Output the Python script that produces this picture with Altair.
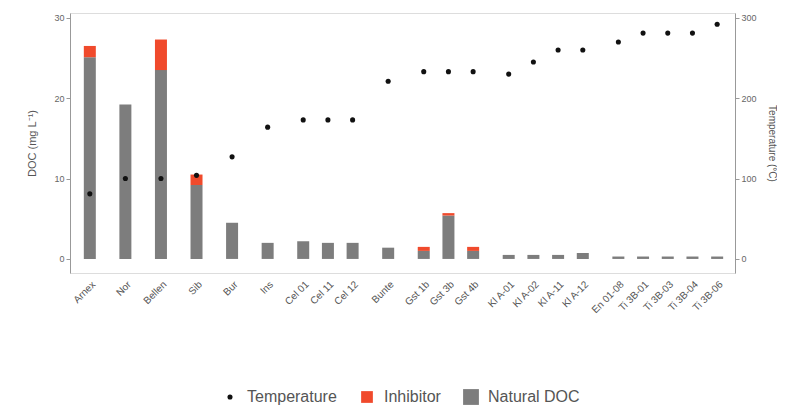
import json
import altair as alt
import pandas as pd

labels = ["Arnex", "Nor", "Bellen", "Sib", "Bur", "Ins",
          "Cel 01", "Cel 11", "Cel 12", "Bunte",
          "Gst 1b", "Gst 3b", "Gst 4b",
          "Kl A-01", "Kl A-02", "Kl A-11", "Kl A-12",
          "En 01-08", "Ti 3B-01", "Ti 3B-03", "Ti 3B-04", "Ti 3B-06"]
groups = [1, 2, 3, 4, 5, 6, 7, 7, 7, 8, 9, 9, 9, 10, 10, 10, 10, 11, 11, 11, 11, 11]
natural = [25.1, 19.2, 23.5, 9.2, 4.5, 2.0, 2.2, 2.0, 2.0, 1.4, 1.0, 5.4, 1.0,
           0.5, 0.5, 0.5, 0.75, 0.3, 0.3, 0.3, 0.3, 0.3]
inhibitor = [1.4, 0.0, 3.8, 1.3, 0.0, 0.0, 0.0, 0.0, 0.0, 0.0, 0.5, 0.3, 0.5,
             0.0, 0.0, 0.0, 0.0, 0.0, 0.0, 0.0, 0.0, 0.0]
temperature = [81, 100, 100, 104, 127, 164, 173, 173, 173, 221, 233, 233, 233,
               230, 245, 260, 260, 270, 281, 281, 281, 292]

series = ["Temperature", "Inhibitor", "Natural DOC"]
colors = ["#111111", "#f04a2c", "#7d7d7d"]
shapes = ["circle", "square", "square"]
sizes = [26, 250, 250]

# x position: one unit per sample, extra gap between sample groups
pos = [round(i + 0.44 * (g - 1), 2) for i, g in enumerate(groups)]

rows = []
for p, lab, n, inh in zip(pos, labels, natural, inhibitor):
    rows.append({"pos": p, "label": lab, "series": "Natural DOC", "doc": n, "ord": 0})
    rows.append({"pos": p, "label": lab, "series": "Inhibitor", "doc": inh, "ord": 1})
bars_df = pd.DataFrame(rows)
temp_df = pd.DataFrame({"pos": pos, "label": labels, "temp": temperature,
                        "series": ["Temperature"] * len(pos)})

label_expr = f"{json.dumps(labels)}[indexof({json.dumps(pos)}, datum.value)]"

xenc = alt.X("pos:Q",
             scale=alt.Scale(domain=[-0.6, 25.92], nice=False, zero=False),
             axis=alt.Axis(values=pos, labelExpr=label_expr, labelAngle=-45,
                           domain=False, ticks=False, grid=False, title=None,
                           labelFontSize=10, labelColor="#555555", labelPadding=6,
                           labelOverlap=False, labelFlush=False))

legend = alt.Legend(title=None, orient="none", direction="horizontal",
                    legendX=152, legendY=376,
                    labelFontSize=16, labelColor="#555555", columnPadding=22,
                    labelOffset=9, symbolStrokeWidth=0)

bars = alt.Chart(bars_df).mark_bar(size=12).encode(
    x=xenc,
    y=alt.Y("doc:Q", stack="zero",
            scale=alt.Scale(domain=[-1.75, 30.6], nice=False),
            axis=alt.Axis(values=[0, 10, 20, 30], title="DOC (mg L⁻¹)", grid=False,
                          domainColor="#999999", tickColor="#999999",
                          labelColor="#666666", titleColor="#555555",
                          labelFontSize=9, titleFontSize=11, titleFontWeight="normal",
                          tickSize=4, titlePadding=16)),
    color=alt.Color("series:N", scale=alt.Scale(domain=series, range=colors), legend=legend),
    order=alt.Order("ord:Q"),
)

points = alt.Chart(temp_df).mark_point(filled=True, opacity=1).encode(
    x=xenc,
    y=alt.Y("temp:Q",
            scale=alt.Scale(domain=[-17.5, 306], nice=False),
            axis=alt.Axis(orient="right", values=[0, 100, 200, 300],
                          title="Temperature (°C)", grid=False,
                          domainColor="#999999", tickColor="#999999",
                          labelColor="#666666", titleColor="#555555",
                          labelFontSize=9, titleFontSize=10, titleFontWeight="normal",
                          tickSize=4, titlePadding=10)),
    color=alt.Color("series:N", scale=alt.Scale(domain=series, range=colors), legend=legend),
    shape=alt.Shape("series:N", scale=alt.Scale(domain=series, range=shapes), legend=legend),
    size=alt.Size("series:N", scale=alt.Scale(domain=series, range=sizes), legend=legend),
)

chart = alt.layer(bars, points).resolve_scale(y="independent").properties(
    width=665, height=260,
    padding={"left": 18, "top": 5, "right": 0, "bottom": 5},
).configure_view(stroke=None).configure(font="Liberation Sans")

chart.save("out.html", embed_options={"renderer": "svg", "actions": False})
